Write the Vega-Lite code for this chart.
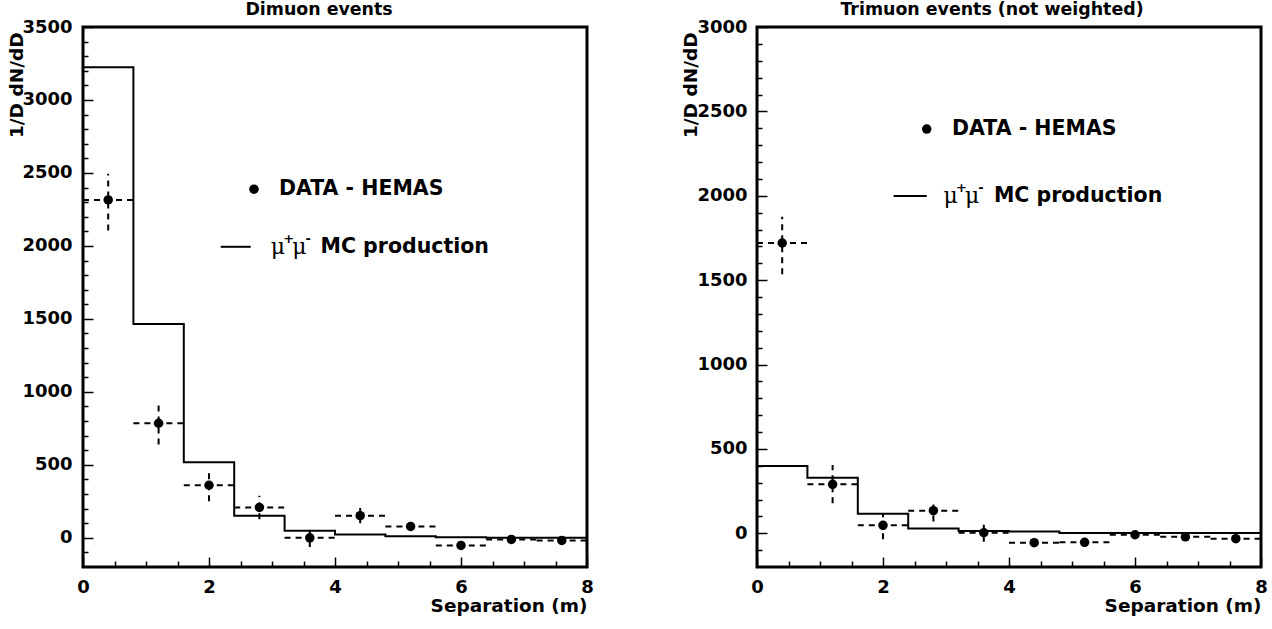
{
  "$schema": "https://vega.github.io/schema/vega-lite/v6.json",
  "autosize": {"type": "pad"},
  "padding": {"left": 5, "top": -1, "right": 4, "bottom": 5},
  "background": "white",
  "bounds": "flush",
  "spacing": 170,
  "datasets": {
    "mcDimuon": [
      {"e": 0.0, "v": 3225}, {"e": 0.8, "v": 1465}, {"e": 1.6, "v": 517}, {"e": 2.4, "v": 151},
      {"e": 3.2, "v": 48}, {"e": 4.0, "v": 22}, {"e": 4.8, "v": 11}, {"e": 5.6, "v": 3},
      {"e": 6.4, "v": 1}, {"e": 7.2, "v": 1}, {"e": 8.0, "v": 1}
    ],
    "dataDimuon": [
      {"x": 0.4, "x0": 0.0, "x1": 0.8, "y": 2315, "lo": 2105, "hi": 2495},
      {"x": 1.2, "x0": 0.8, "x1": 1.6, "y": 785, "lo": 640, "hi": 930},
      {"x": 2.0, "x0": 1.6, "x1": 2.4, "y": 360, "lo": 250, "hi": 445},
      {"x": 2.8, "x0": 2.4, "x1": 3.2, "y": 208, "lo": 128, "hi": 288},
      {"x": 3.6, "x0": 3.2, "x1": 4.0, "y": 0, "lo": -63, "hi": 63},
      {"x": 4.4, "x0": 4.0, "x1": 4.8, "y": 152, "lo": 100, "hi": 204},
      {"x": 5.2, "x0": 4.8, "x1": 5.6, "y": 78, "lo": 48, "hi": 108},
      {"x": 6.0, "x0": 5.6, "x1": 6.4, "y": -52, "lo": -72, "hi": -32},
      {"x": 6.8, "x0": 6.4, "x1": 7.2, "y": -11, "lo": -25, "hi": 3},
      {"x": 7.6, "x0": 7.2, "x1": 8.0, "y": -18, "lo": -32, "hi": -4}
    ],
    "mcTrimuon": [
      {"e": 0.0, "v": 399}, {"e": 0.8, "v": 329}, {"e": 1.6, "v": 116}, {"e": 2.4, "v": 28},
      {"e": 3.2, "v": 13}, {"e": 4.0, "v": 11}, {"e": 4.8, "v": 2}, {"e": 5.6, "v": 1},
      {"e": 6.4, "v": 1}, {"e": 7.2, "v": 1}, {"e": 8.0, "v": 1}
    ],
    "dataTrimuon": [
      {"x": 0.4, "x0": 0.0, "x1": 0.8, "y": 1720, "lo": 1535, "hi": 1875},
      {"x": 1.2, "x0": 0.8, "x1": 1.6, "y": 290, "lo": 178, "hi": 405},
      {"x": 2.0, "x0": 1.6, "x1": 2.4, "y": 47, "lo": -36, "hi": 118},
      {"x": 2.8, "x0": 2.4, "x1": 3.2, "y": 134, "lo": 69, "hi": 197},
      {"x": 3.6, "x0": 3.2, "x1": 4.0, "y": 3, "lo": -50, "hi": 55},
      {"x": 4.4, "x0": 4.0, "x1": 4.8, "y": -56, "lo": -80, "hi": -32},
      {"x": 5.2, "x0": 4.8, "x1": 5.6, "y": -54, "lo": -76, "hi": -32},
      {"x": 6.0, "x0": 5.6, "x1": 6.4, "y": -9, "lo": -25, "hi": 7},
      {"x": 6.8, "x0": 6.4, "x1": 7.2, "y": -21, "lo": -37, "hi": -5},
      {"x": 7.6, "x0": 7.2, "x1": 8.0, "y": -32, "lo": -48, "hi": -16}
    ],
    "keyDimuon": [
      {"kind": "dot", "x": 2.714, "y": 2389, "label": "DATA - HEMAS", "tx": 3.11},
      {"kind": "line", "x": 2.186, "x2": 2.662, "y": 1994, "label": "MC production", "tx": 3.77}
    ],
    "muDimuon": [
      {"x": 2.98, "y": 1994, "t": "μ"}, {"x": 3.32, "y": 1994, "t": "μ"}
    ],
    "supDimuon": [
      {"x": 3.18, "y": 1994, "t": "+"}, {"x": 3.53, "y": 1994, "t": "-"}
    ],
    "keyTrimuon": [
      {"kind": "dot", "x": 2.694, "y": 2395, "label": "DATA - HEMAS", "tx": 3.095},
      {"kind": "line", "x": 2.169, "x2": 2.694, "y": 1998, "label": "MC production", "tx": 3.76}
    ],
    "muTrimuon": [
      {"x": 2.96, "y": 1998, "t": "μ"}, {"x": 3.30, "y": 1998, "t": "μ"}
    ],
    "supTrimuon": [
      {"x": 3.16, "y": 1998, "t": "+"}, {"x": 3.51, "y": 1998, "t": "-"}
    ]
  },
  "hconcat": [
    {
      "width": 504,
      "height": 540,
      "title": {"text": "Dimuon events", "fontSize": 17.4, "font": "DejaVu Sans", "fontWeight": "bold", "color": "black", "anchor": "middle", "frame": "group", "dx": -16, "offset": -14, "baseline": "alphabetic"},
      "layer": [
        {
          "mark": {"type": "rule", "strokeWidth": 2, "color": "black"},
          "encoding": {
            "y": {"datum": 0, "type": "quantitative", "scale": {"domain": [-200, 3500], "nice": false, "zero": false},
              "axis": {"orient": "left", "values": [0, 500, 1000, 1500, 2000, 2500, 3000, 3500], "format": "d", "tickSize": -10, "labelPadding": 21,
                "title": "1/D dN/dD", "titleX": -61, "titleY": 5, "titleAngle": 270, "titleAlign": "right", "titleBaseline": "alphabetic"}}
          }
        },
        {
          "data": {"name": "mcDimuon"},
          "mark": {"type": "line", "interpolate": "step-after", "strokeWidth": 2, "color": "black"},
          "encoding": {
            "x": {"field": "e", "type": "quantitative", "scale": {"domain": [0, 8], "nice": false, "zero": false},
              "axis": {"orient": "bottom", "values": [0, 2, 4, 6, 8], "format": "d", "tickSize": -10, "labelPadding": 21,
                "title": "Separation (m)", "titleX": 504, "titleY": 44, "titleAlign": "right", "titleBaseline": "alphabetic"}},
            "y": {"field": "v", "type": "quantitative", "scale": {"domain": [-200, 3500], "nice": false, "zero": false},
              "axis": {"orient": "left", "values": [-100, 100, 200, 300, 400, 600, 700, 800, 900, 1100, 1200, 1300, 1400, 1600, 1700, 1800, 1900, 2100, 2200, 2300, 2400, 2600, 2700, 2800, 2900, 3100, 3200, 3300, 3400], "tickSize": -5, "labels": false, "title": null}}
          }
        },
        {
          "data": {"name": "dataDimuon"},
          "mark": {"type": "rule", "strokeWidth": 2, "strokeDash": [6, 5], "color": "black"},
          "encoding": {
            "x": {"field": "x0", "type": "quantitative", "axis": null},
            "x2": {"field": "x1"},
            "y": {"field": "y", "type": "quantitative", "axis": null}
          }
        },
        {
          "data": {"name": "dataDimuon"},
          "mark": {"type": "rule", "strokeWidth": 2, "strokeDash": [6, 5], "color": "black"},
          "encoding": {
            "x": {"field": "x", "type": "quantitative", "axis": null},
            "y": {"field": "lo", "type": "quantitative", "axis": null},
            "y2": {"field": "hi"}
          }
        },
        {
          "data": {"name": "dataDimuon"},
          "mark": {"type": "point", "filled": true, "size": 90, "opacity": 1, "color": "black"},
          "encoding": {
            "x": {"field": "x", "type": "quantitative",
              "axis": {"orient": "bottom", "values": [0.5, 1, 1.5, 2.5, 3, 3.5, 4.5, 5, 5.5, 6.5, 7, 7.5], "tickSize": -6, "labels": false, "title": null}},
            "y": {"field": "y", "type": "quantitative", "axis": null}
          }
        },
        {
          "data": {"name": "keyDimuon"},
          "transform": [{"filter": "datum.kind === 'dot'"}],
          "mark": {"type": "point", "filled": true, "size": 90, "opacity": 1, "color": "black"},
          "encoding": {
            "x": {"field": "x", "type": "quantitative", "axis": null},
            "y": {"field": "y", "type": "quantitative", "axis": null}
          }
        },
        {
          "data": {"name": "keyDimuon"},
          "transform": [{"filter": "datum.kind === 'line'"}],
          "mark": {"type": "rule", "strokeWidth": 2, "color": "black"},
          "encoding": {
            "x": {"field": "x", "type": "quantitative", "axis": null},
            "x2": {"field": "x2"},
            "y": {"field": "y", "type": "quantitative", "axis": null}
          }
        },
        {
          "data": {"name": "keyDimuon"},
          "mark": {"type": "text", "align": "left", "baseline": "middle", "font": "DejaVu Sans", "fontWeight": "bold", "fontSize": 20.5, "color": "black"},
          "encoding": {
            "x": {"field": "tx", "type": "quantitative", "axis": null},
            "y": {"field": "y", "type": "quantitative", "axis": null},
            "text": {"field": "label"}
          }
        },
        {
          "data": {"name": "muDimuon"},
          "mark": {"type": "text", "align": "left", "baseline": "middle", "font": "DejaVu Serif", "fontSize": 22, "color": "black"},
          "encoding": {
            "x": {"field": "x", "type": "quantitative", "axis": null},
            "y": {"field": "y", "type": "quantitative", "axis": null},
            "text": {"field": "t"}
          }
        },
        {
          "data": {"name": "supDimuon"},
          "mark": {"type": "text", "align": "left", "baseline": "middle", "font": "DejaVu Sans", "fontWeight": "bold", "fontSize": 13, "dy": -8, "color": "black"},
          "encoding": {
            "x": {"field": "x", "type": "quantitative", "axis": null},
            "y": {"field": "y", "type": "quantitative", "axis": null},
            "text": {"field": "t"}
          }
        }
      ],
      "resolve": {"axis": {"x": "independent", "y": "independent"}}
    },
    {
      "width": 504,
      "height": 540,
      "title": {"text": "Trimuon events (not weighted)", "fontSize": 17.4, "font": "DejaVu Sans", "fontWeight": "bold", "color": "black", "anchor": "middle", "frame": "group", "dx": -17, "offset": -14, "baseline": "alphabetic"},
      "layer": [
        {
          "mark": {"type": "rule", "strokeWidth": 2, "color": "black"},
          "encoding": {
            "y": {"datum": 0, "type": "quantitative", "scale": {"domain": [-200, 3000], "nice": false, "zero": false},
              "axis": {"orient": "left", "values": [0, 500, 1000, 1500, 2000, 2500, 3000], "format": "d", "tickSize": -10, "labelPadding": 20,
                "title": "1/D dN/dD", "titleX": -61, "titleY": 5, "titleAngle": 270, "titleAlign": "right", "titleBaseline": "alphabetic"}}
          }
        },
        {
          "data": {"name": "mcTrimuon"},
          "mark": {"type": "line", "interpolate": "step-after", "strokeWidth": 2, "color": "black"},
          "encoding": {
            "x": {"field": "e", "type": "quantitative", "scale": {"domain": [0, 8], "nice": false, "zero": false},
              "axis": {"orient": "bottom", "values": [0, 2, 4, 6, 8], "format": "d", "tickSize": -10, "labelPadding": 21,
                "title": "Separation (m)", "titleX": 504, "titleY": 44, "titleAlign": "right", "titleBaseline": "alphabetic"}},
            "y": {"field": "v", "type": "quantitative", "scale": {"domain": [-200, 3000], "nice": false, "zero": false},
              "axis": {"orient": "left", "values": [-100, 100, 200, 300, 400, 600, 700, 800, 900, 1100, 1200, 1300, 1400, 1600, 1700, 1800, 1900, 2100, 2200, 2300, 2400, 2600, 2700, 2800, 2900], "tickSize": -5, "labels": false, "title": null}}
          }
        },
        {
          "data": {"name": "dataTrimuon"},
          "mark": {"type": "rule", "strokeWidth": 2, "strokeDash": [6, 5], "color": "black"},
          "encoding": {
            "x": {"field": "x0", "type": "quantitative", "axis": null},
            "x2": {"field": "x1"},
            "y": {"field": "y", "type": "quantitative", "axis": null}
          }
        },
        {
          "data": {"name": "dataTrimuon"},
          "mark": {"type": "rule", "strokeWidth": 2, "strokeDash": [6, 5], "color": "black"},
          "encoding": {
            "x": {"field": "x", "type": "quantitative", "axis": null},
            "y": {"field": "lo", "type": "quantitative", "axis": null},
            "y2": {"field": "hi"}
          }
        },
        {
          "data": {"name": "dataTrimuon"},
          "mark": {"type": "point", "filled": true, "size": 90, "opacity": 1, "color": "black"},
          "encoding": {
            "x": {"field": "x", "type": "quantitative",
              "axis": {"orient": "bottom", "values": [0.5, 1, 1.5, 2.5, 3, 3.5, 4.5, 5, 5.5, 6.5, 7, 7.5], "tickSize": -6, "labels": false, "title": null}},
            "y": {"field": "y", "type": "quantitative", "axis": null}
          }
        },
        {
          "data": {"name": "keyTrimuon"},
          "transform": [{"filter": "datum.kind === 'dot'"}],
          "mark": {"type": "point", "filled": true, "size": 90, "opacity": 1, "color": "black"},
          "encoding": {
            "x": {"field": "x", "type": "quantitative", "axis": null},
            "y": {"field": "y", "type": "quantitative", "axis": null}
          }
        },
        {
          "data": {"name": "keyTrimuon"},
          "transform": [{"filter": "datum.kind === 'line'"}],
          "mark": {"type": "rule", "strokeWidth": 2, "color": "black"},
          "encoding": {
            "x": {"field": "x", "type": "quantitative", "axis": null},
            "x2": {"field": "x2"},
            "y": {"field": "y", "type": "quantitative", "axis": null}
          }
        },
        {
          "data": {"name": "keyTrimuon"},
          "mark": {"type": "text", "align": "left", "baseline": "middle", "font": "DejaVu Sans", "fontWeight": "bold", "fontSize": 20.5, "color": "black"},
          "encoding": {
            "x": {"field": "tx", "type": "quantitative", "axis": null},
            "y": {"field": "y", "type": "quantitative", "axis": null},
            "text": {"field": "label"}
          }
        },
        {
          "data": {"name": "muTrimuon"},
          "mark": {"type": "text", "align": "left", "baseline": "middle", "font": "DejaVu Serif", "fontSize": 22, "color": "black"},
          "encoding": {
            "x": {"field": "x", "type": "quantitative", "axis": null},
            "y": {"field": "y", "type": "quantitative", "axis": null},
            "text": {"field": "t"}
          }
        },
        {
          "data": {"name": "supTrimuon"},
          "mark": {"type": "text", "align": "left", "baseline": "middle", "font": "DejaVu Sans", "fontWeight": "bold", "fontSize": 13, "dy": -8, "color": "black"},
          "encoding": {
            "x": {"field": "x", "type": "quantitative", "axis": null},
            "y": {"field": "y", "type": "quantitative", "axis": null},
            "text": {"field": "t"}
          }
        }
      ],
      "resolve": {"axis": {"x": "independent", "y": "independent"}}
    }
  ],
  "config": {
    "view": {"stroke": "black", "strokeWidth": 3, "fill": "white"},
    "font": "DejaVu Sans",
    "axis": {
      "domain": false,
      "grid": false,
      "tickColor": "black",
      "tickWidth": 1.5,
      "labelFont": "DejaVu Sans",
      "labelFontWeight": "bold",
      "labelFontSize": 18,
      "labelColor": "black",
      "labelFlush": false,
      "labelOverlap": false,
      "titleFont": "DejaVu Sans",
      "titleFontWeight": "bold",
      "titleFontSize": 18.5,
      "titleColor": "black",
      "titlePadding": 0
    }
  }
}
